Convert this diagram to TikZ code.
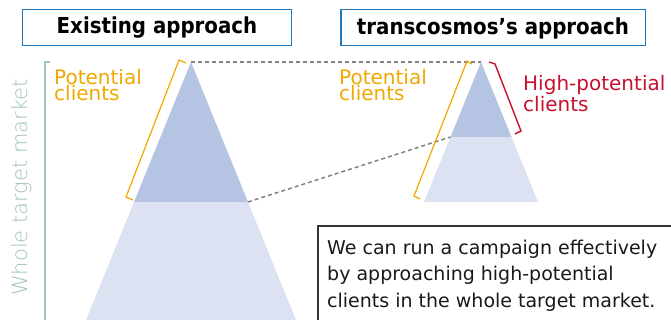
\documentclass[tikz,border=0pt]{standalone}
\usepackage{fontspec}
\setmainfont{DejaVu Sans}
\newfontfamily\hdfont{DejaVu Sans}[FakeStretch=0.9]
\newfontfamily\lightfont{DejaVu Sans ExtraLight}
\definecolor{hdblue}{RGB}{30,122,192}
\definecolor{tridark}{RGB}{181,196,227}
\definecolor{trilight}{RGB}{221,226,242}
\definecolor{potorange}{RGB}{240,168,0}
\definecolor{hired}{RGB}{200,16,46}
\definecolor{mkgreen}{RGB}{160,196,180}
\definecolor{dashgray}{RGB}{130,130,130}
\begin{document}
\begin{tikzpicture}[x=1pt,y=-1pt,
  hdbox/.style={draw=hdblue,line width=1.5pt,inner sep=0pt},
  hdtext/.style={font=\hdfont\bfseries\fontsize{22}{26}\selectfont,inner sep=0pt},
  potlabel/.style={text=potorange,font=\fontsize{20}{16}\selectfont,inner sep=0pt,anchor=base west,align=left},
  hilabel/.style={text=hired,font=\fontsize{20}{21}\selectfont,inner sep=0pt,anchor=base west,align=left},
  bodytext/.style={text=black!90,font=\fontsize{19}{26.5}\selectfont,inner sep=0pt,anchor=base west,align=left},
  potbracket/.style={draw=potorange,line width=1.2pt},
  hibracket/.style={draw=hired,line width=1.4pt},
  guide/.style={draw=dashgray,line width=1.5pt,dash pattern=on 4pt off 3pt}]
\useasboundingbox (0,0) rectangle (671,320);
% header boxes
\draw[hdbox] (22.5,9.5) rectangle (291.5,45.5);
\node[hdtext] (h1) at (157,28) {Existing approach};
\draw[hdbox] (341,9.5) rectangle (645.5,45.5);
\node[hdtext] (h2) at (493,28) {transcosmos’s approach};
% whole target market
\node[text=mkgreen,rotate=90,font=\lightfont\fontsize{21}{21}\selectfont,inner sep=0pt] (wtm) at (22,187.5) {Whole target market};
\draw[draw=mkgreen,line width=2pt] (50,62) -- (45,62) -- (45,325);
% left pyramid
\coordinate (LA) at (191,62);
\coordinate (LBL) at (134,202);
\coordinate (LBR) at (248,202);
\fill[trilight] (LBL) -- (LBR) -- (300,330) -- (82,330) -- cycle;
\fill[tridark] (LA) -- (LBR) -- (LBL) -- cycle;
% right pyramid
\coordinate (RA) at (481,62);
\coordinate (RML) at (450.5,137);
\coordinate (RMR) at (511.5,137);
\coordinate (RBL) at (424,202);
\coordinate (RBR) at (538,202);
\fill[trilight] (RML) -- (RMR) -- (RBR) -- (RBL) -- cycle;
\fill[tridark] (RA) -- (RMR) -- (RML) -- cycle;
% guides
\draw[guide] (LA) -- (RA);
\draw[guide] (LBR) -- (RML);
% brackets
\draw[potbracket] (186,63) -- (179,60) -- (126,197) -- (133,200);
\draw[potbracket] (472,64) -- (467,61) -- (414,196) -- (420,199);
\draw[hibracket] (489,62) -- (495,64) -- (521,131) -- (515,134);
% labels (anchor = baseline of last line)
\node[potlabel] (p1) at (54,100.5) {Potential\\clients};
\node[potlabel] (p2) at (339,100.5) {Potential\\clients};
\node[hilabel] (hp) at (523,112) {High-potential\\clients};
% body box
\draw[draw=black!80,line width=1.5pt] (680,226) -- (318,226) -- (318,330);
\node[bodytext] (body) at (327,307) {We can run a campaign effectively\\by approaching high-potential\\clients in the whole target market.};
\end{tikzpicture}
\end{document}
